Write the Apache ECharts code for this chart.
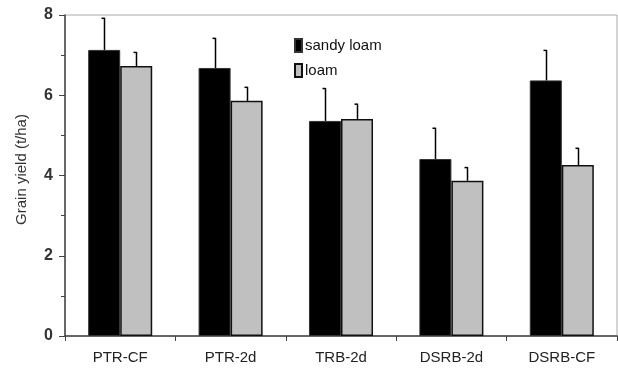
<!DOCTYPE html>
<html>
<head>
<meta charset="utf-8">
<script src="https://cdn.jsdelivr.net/npm/echarts@6/dist/echarts.min.js"></script>
<style>
  html, body { margin: 0; padding: 0; background: #fff; }
  #main { width: 618px; height: 374px; }
</style>
</head>
<body>
<div id="main"></div>
<script>
const categories = ['PTR-CF', 'PTR-2d', 'TRB-2d', 'DSRB-2d', 'DSRB-CF']
const sandyLoam = [7.13, 6.68, 5.36, 4.41, 6.37]
const sandyLoamErr = [0.80, 0.75, 0.82, 0.78, 0.76]
const loam = [6.73, 5.86, 5.41, 3.87, 4.26]
const loamErr = [0.35, 0.35, 0.38, 0.34, 0.43]
const yTicks = [0, 2, 4, 6, 8]

const BAR_PCT = 0.29
const font = 'Liberation Sans, Arial, sans-serif'

function errorData(values, errs) {
  return values.map((v, i) => [i, v, v + errs[i]])
}

// side: -1 for the left bar, +1 for the right bar
function errorBars(side) {
  return function (params, api) {
    const i = api.value(0)
    const base = api.coord([i, api.value(1)])
    const top = api.coord([i, api.value(2)])
    const band = api.size([1, 0])[0]
    const x = Math.round(base[0] + side * band * BAR_PCT / 2) + 0.5
    const style = { stroke: '#000', lineWidth: 1.5 }
    return {
      type: 'group',
      children: [
        { type: 'line', shape: { x1: x, y1: base[1], x2: x, y2: top[1] }, style },
        { type: 'line', shape: { x1: x - 3, y1: top[1] + 0.5, x2: x, y2: top[1] + 0.5 }, style }
      ]
    }
  }
}

const myChart = echarts.init(document.getElementById('main'))

const option = {
  animation: false,
  textStyle: { fontFamily: font },
  grid: {
    left: 65, right: 1, top: 15, bottom: 38,
    show: true, borderColor: '#aaa', borderWidth: 1
  },
  legend: {
    orient: 'vertical',
    left: 289, top: 33,
    icon: 'rect',
    itemWidth: 7, itemHeight: 13, itemGap: 10,
    textStyle: { fontSize: 15, color: '#111', fontFamily: font, padding: [0, 0, 0, -2] },
    data: ['sandy loam', 'loam']
  },
  xAxis: {
    type: 'category',
    data: categories,
    axisLine: { lineStyle: { color: '#444', width: 1.5 } },
    axisTick: { show: true, length: 5, lineStyle: { color: '#444' } },
    axisLabel: { color: '#222', fontSize: 15, margin: 14 }
  },
  yAxis: {
    type: 'value',
    min: 0, max: 8, interval: 2,
    name: 'Grain yield (t/ha)',
    nameLocation: 'middle',
    nameGap: 36,
    nameRotate: 90,
    nameTextStyle: { fontSize: 15, color: '#333', padding: [0, 0, 0, 12] },
    axisLine: { show: true, lineStyle: { color: '#444', width: 1.5 } },
    axisTick: { show: true, length: 6, lineStyle: { color: '#444' } },
    minorTick: { show: true, splitNumber: 2, length: 4, lineStyle: { color: '#444' } },
    splitLine: { show: false },
    axisLabel: {
      color: '#333', fontSize: 16, fontWeight: 'bold', margin: 12,
      formatter: v => yTicks.includes(v) ? String(v) : ''
    }
  },
  series: [
    {
      name: 'sandy loam',
      type: 'bar',
      data: sandyLoam,
      barWidth: '29%',
      barGap: '0%',
      itemStyle: { color: '#000', borderColor: '#333', borderWidth: 1 }
    },
    {
      name: 'loam',
      type: 'bar',
      data: loam,
      barWidth: '29%',
      barGap: '0%',
      itemStyle: { color: '#c0c0c0', borderColor: '#111', borderWidth: 1.5 }
    },
    {
      type: 'custom',
      renderItem: errorBars(-1),
      data: errorData(sandyLoam, sandyLoamErr),
      encode: { x: 0, y: [1, 2] },
      z: 3
    },
    {
      type: 'custom',
      renderItem: errorBars(1),
      data: errorData(loam, loamErr),
      encode: { x: 0, y: [1, 2] },
      z: 3
    }
  ]
}

myChart.setOption(option)
</script>
</body>
</html>
